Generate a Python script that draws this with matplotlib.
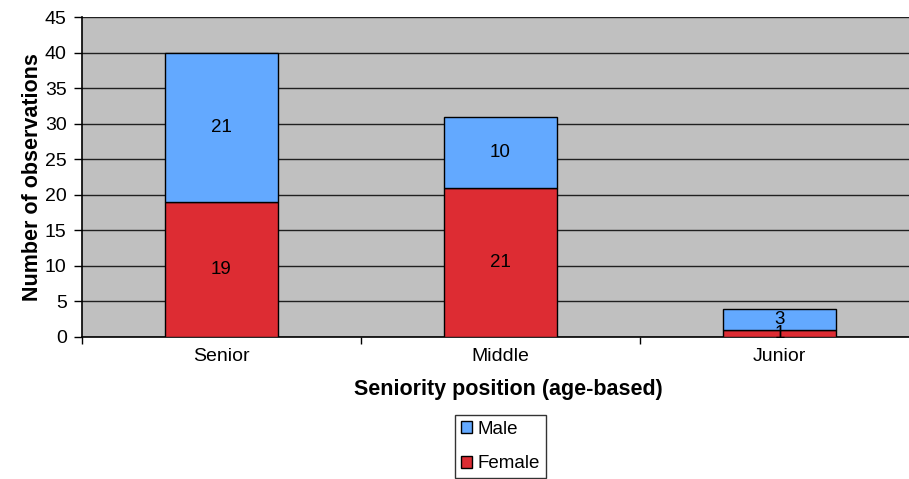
import numpy as np
import matplotlib.pyplot as plt

plt.rcParams['font.family'] = ['Liberation Sans', 'DejaVu Sans']

categories = ['Senior', 'Middle', 'Junior']
female = [19, 21, 1]
male = [21, 10, 3]

fig = plt.figure(figsize=(9.09, 4.79), dpi=100)
# plot area runs past the right edge of the picture, as in the original crop
ax = fig.add_axes([0.0902, 0.2965, 0.9208, 0.668])
ax.set_facecolor('#C0C0C0')

x = np.arange(len(categories))
w = 0.405
b1 = ax.bar(x, female, w, color='#DD2C33', edgecolor='black', linewidth=1, label='Female', zorder=3)
b2 = ax.bar(x, male, w, bottom=female, color='#63A9FF', edgecolor='black', linewidth=1, label='Male', zorder=3)

for i in range(len(categories)):
  ax.text(x[i], female[i] / 2, str(female[i]), ha='center', va='center', fontsize=13.5, zorder=4)
  ax.text(x[i], female[i] + male[i] / 2, str(male[i]), ha='center', va='center', fontsize=13.5, zorder=4)

ax.set_xlim(-0.5, 2.5)
ax.set_ylim(0, 45)
ax.set_yticks(range(0, 46, 5))
ax.yaxis.grid(True, color='#202020', linewidth=1, zorder=0)
ax.set_axisbelow(True)

ax.set_xticks(x)
ax.set_xticklabels(categories, fontsize=14)
ax.set_xticks([-0.5, 0.5, 1.5, 2.5], minor=True)
ax.tick_params(axis='x', which='major', length=0, pad=8)
ax.tick_params(axis='x', which='minor', length=5, width=1, direction='out')
ax.tick_params(axis='y', length=6, width=1, labelsize=14, pad=5)

for s in ['top', 'right']:
  ax.spines[s].set_visible(False)
ax.spines['left'].set_linewidth(1.2)
ax.spines['bottom'].set_linewidth(1.2)

ax.set_xlabel('Seniority position (age-based)', fontsize=15.5, fontweight='bold')
ax.xaxis.set_label_coords(0.5096, -0.132)
ax.set_ylabel('Number of observations', fontsize=15.5, fontweight='bold', labelpad=1)

leg = fig.legend(handles=[b2, b1], labels=['Male', 'Female'], loc='upper center',
                 bbox_to_anchor=(0.5506, 1 - 415 / 479), fontsize=13.5, frameon=True,
                 fancybox=False, edgecolor='black', handlelength=0.6, handleheight=0.6,
                 handletextpad=0.3, labelspacing=0.95, borderpad=0.3, borderaxespad=0)
leg.get_frame().set_linewidth(1)

fig.savefig('out.png', dpi=100)
